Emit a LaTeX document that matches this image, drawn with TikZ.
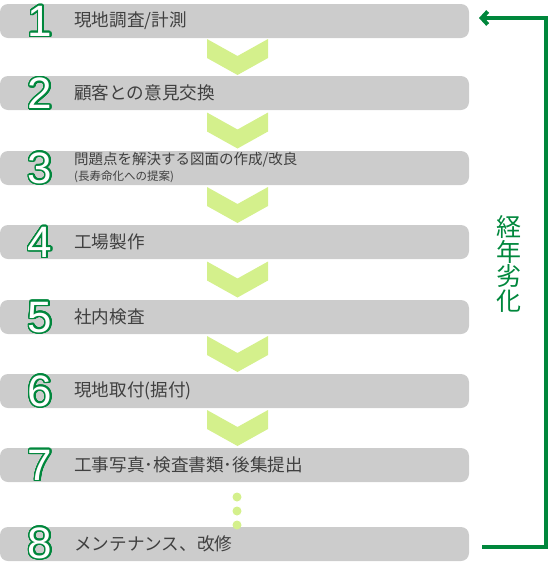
\documentclass[tikz,border=0pt]{standalone}
\usepackage{fontspec}
\usepackage{contour}
\usetikzlibrary{arrows.meta}
\setmainfont{Noto Sans CJK JP}
\newfontfamily\digitfont{Liberation Sans}
\definecolor{barGray}{HTML}{CCCCCC}
\definecolor{textGray}{HTML}{404040}
\definecolor{ecoGreen}{RGB}{0,135,60}
\definecolor{chevGreen}{RGB}{212,240,140}
\contourlength{1.5pt}
\contournumber{32}

\begin{document}
\begin{tikzpicture}[x=1pt,y=-1pt]
            \tikzset{bar/.style={rectangle, rounded corners=8pt, fill=barGray, minimum width=469pt, minimum height=34pt, inner sep=0pt}};
            \tikzset{num/.style={inner sep=0pt, text=white, font=\digitfont\fontsize{44}{44}\selectfont}};
            \tikzset{txt/.style={anchor=west, inner sep=0pt, text=textGray, font=\fontsize{17.6}{17.6}\selectfont}};
            \tikzset{chev/.style={fill=chevGreen}};
            \tikzset{dot/.style={circle, fill=chevGreen, minimum size=9pt, inner sep=0pt}};
            \useasboundingbox (0,0) rectangle (549,563);

            \node[bar] (b1) at (234.5,21) {};
            \node[bar] (b2) at (234.5,93) {};
            \node[bar] (b3) at (234.5,168) {};
            \node[bar] (b4) at (234.5,242) {};
            \node[bar] (b5) at (234.5,317) {};
            \node[bar] (b6) at (234.5,391) {};
            \node[bar] (b7) at (234.5,465) {};
            \node[bar] (b8) at (234.5,544) {};

            % chevrons between the steps
            \foreach \y in {39,112.5,187,261.5,336,410}
                \fill[chev] (207,\y) -- ++(30.5,17) -- ++(30.5,-17) -- ++(0,19) -- ++(-30.5,17) -- ++(-30.5,-17) -- cycle;

            \node[dot] (d1) at (237,497) {};
            \node[dot] (d2) at (237,511) {};
            \node[dot] (d3) at (237,525) {};

            \node[num] (n1) at (40,22) {\contour{ecoGreen}{1}};
            \node[num] (n2) at (40,94) {\contour{ecoGreen}{2}};
            \node[num] (n3) at (40,169) {\contour{ecoGreen}{3}};
            \node[num] (n4) at (40,243) {\contour{ecoGreen}{4}};
            \node[num] (n5) at (40,318) {\contour{ecoGreen}{5}};
            \node[num] (n6) at (40,392) {\contour{ecoGreen}{6}};
            \node[num] (n7) at (40,466) {\contour{ecoGreen}{7}};
            \node[num] (n8) at (40,544) {\contour{ecoGreen}{8}};

            \node[txt] (t1) at (74,21) {現地調査/計測};
            \node[txt] (t2) at (74,93) {顧客との意見交換};
            \node[txt, font=\fontsize{14.5}{14.5}\selectfont] (t3) at (74,160) {問題点を解決する図面の作成/改良};
            \node[txt, font=\fontsize{11.5}{11.5}\selectfont] (t3b) at (74,177) {(長寿命化への提案)};
            \node[txt] (t4) at (74,242) {工場製作};
            \node[txt] (t5) at (74,317) {社内検査};
            \node[txt] (t6) at (74,391) {現地取付(据付)};
            \node[txt] (t7) at (74,465) {工事写真･検査書類･後集提出};
            \node[txt] (t8) at (74,544) {メンテナンス、改修};

            % return loop
            \coordinate (r8) at (482,547);
            \coordinate (c8) at (546,547);
            \coordinate (c1) at (546,18);
            \coordinate (r1) at (479,18);
            \draw[ecoGreen, line width=4pt, -{Straight Barb[length=6pt,width=13pt]}] (r8) -- (c8) -- (c1) -- (r1);

            \node[text=ecoGreen, align=center, inner sep=0pt, font=\fontsize{25}{24.5}\selectfont] (aging) at (509,264) {経\\年\\劣\\化};
        \end{tikzpicture}
\end{document}
